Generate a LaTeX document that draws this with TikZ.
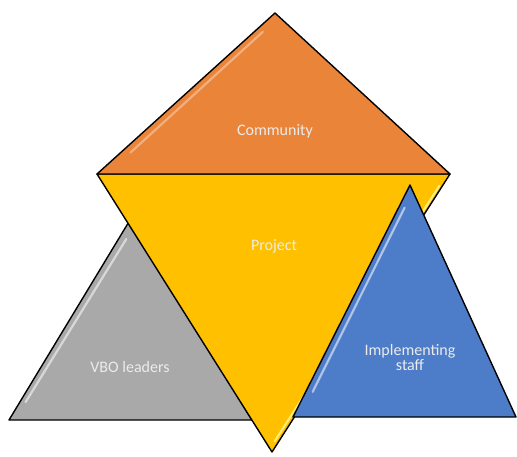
\documentclass[tikz,border=0pt]{standalone}
\usepackage{fontspec}
\setmainfont{Carlito}
\usetikzlibrary{calc}
\begin{document}
\begin{tikzpicture}[x=1pt,y=-1pt,
  facet/.style={draw=black, line width=1.4pt, line join=round},
  gloss/.style={draw=white, line width=2.2pt, line cap=round, opacity=0.55},
  label/.style={text=white!92!black, font=\fontsize{16}{18}\selectfont, align=center}]
\useasboundingbox (0,0) rectangle (517,456);
\definecolor{vbogray}{HTML}{A9A9A9}
\definecolor{projyellow}{HTML}{FFC000}
\definecolor{commorange}{HTML}{EA8439}
\definecolor{staffblue}{HTML}{4D7CC9}

% corner points
\coordinate (gA) at (130,220);  \coordinate (gL) at (9,420);   \coordinate (gR) at (252,420);
\coordinate (yL) at (97,174);   \coordinate (yR) at (450,174); \coordinate (yB) at (272,452);
\coordinate (cT) at (275,13);   \coordinate (cL) at (97,174);  \coordinate (cR) at (450,174);
\coordinate (bT) at (410,185);  \coordinate (bL) at (293,417); \coordinate (bR) at (516,417);

% VBO leaders
\fill[vbogray] (gA) -- (gL) -- (gR) -- cycle;
\draw[gloss] ($(gA)!0.08!(gL)+(6,3)$) -- ($(gA)!0.92!(gL)+(7,-2)$);
\draw[facet] (gA) -- (gL) -- (gR) -- cycle;
\node[label] (vbo) at (130,367) {VBO leaders};

% Project
\fill[projyellow] (yL) -- (yR) -- (yB) -- cycle;
\draw[draw=yellow!40!white, line width=2pt, opacity=0.8] ($(yR)!0.03!(yB)+(-5,3)$) -- ($(yR)!0.97!(yB)+(-3,-2)$);
\draw[facet] (yL) -- (yR) -- (yB) -- cycle;
\node[label] (proj) at (274,246) {Project};

% Community
\fill[commorange] (cT) -- (cL) -- (cR) -- cycle;
\draw[gloss, opacity=0.35] ($(cT)!0.08!(cL)+(2,6)$) -- ($(cT)!0.88!(cL)+(12,-2)$);
\draw[facet] (cT) -- (cL) -- (cR) -- cycle;
\node[label] (comm) at (275,131) {Community};

% Implementing staff
\fill[staffblue] (bT) -- (bL) -- (bR) -- cycle;
\draw[gloss] ($(bT)!0.08!(bL)+(4,4)$) -- ($(bT)!0.9!(bL)+(8,-2)$);
\draw[facet] (bT) -- (bL) -- (bR) -- cycle;
\node[label] (staff) at (410,357) {Implementing\\[-3pt]staff};
\end{tikzpicture}
\end{document}
